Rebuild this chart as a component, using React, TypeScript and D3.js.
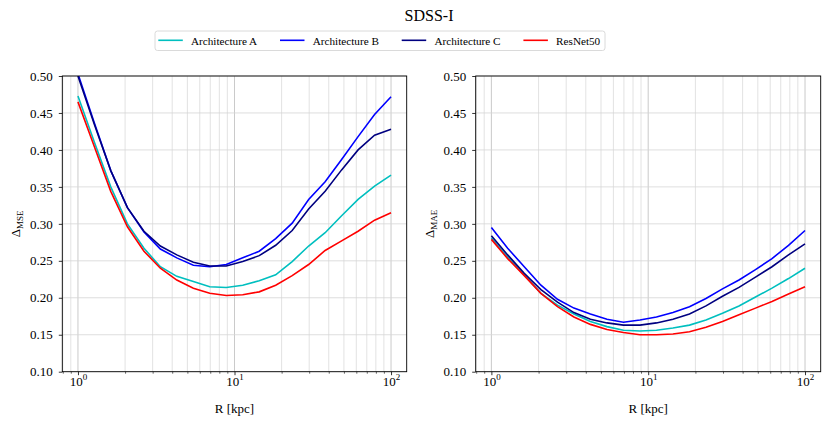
import React, { useEffect, useRef } from "react";
import * as d3 from "d3";

// radii sampled on a log grid from 1 to 100 kpc
const radiusKpc = [1.0, 1.27, 1.62, 2.07, 2.64, 3.36, 4.28, 5.46, 6.95, 8.86, 11.29, 14.38, 18.33, 23.36, 29.76, 37.93, 48.33, 61.58, 78.48, 100.0];

const seriesNames = ["Architecture A", "Architecture B", "Architecture C", "ResNet50"];
const seriesColors = ["#00bfbf", "#0000ff", "#000080", "#ff0000"];

const mseArchA = [0.473, 0.411, 0.350, 0.300, 0.267, 0.242, 0.229, 0.222, 0.215, 0.214, 0.217, 0.223, 0.231, 0.249, 0.270, 0.288, 0.311, 0.333, 0.351, 0.366];
const mseArchB = [0.503, 0.437, 0.372, 0.322, 0.289, 0.266, 0.254, 0.244, 0.242, 0.245, 0.254, 0.263, 0.280, 0.301, 0.333, 0.357, 0.387, 0.418, 0.448, 0.472];
const mseArchC = [0.500, 0.435, 0.372, 0.322, 0.290, 0.270, 0.258, 0.248, 0.243, 0.243, 0.249, 0.257, 0.271, 0.291, 0.320, 0.344, 0.373, 0.400, 0.420, 0.428];
const mseResNet = [0.465, 0.405, 0.344, 0.296, 0.263, 0.240, 0.224, 0.213, 0.206, 0.203, 0.204, 0.208, 0.217, 0.230, 0.245, 0.264, 0.277, 0.290, 0.305, 0.315];

const maeArchA = [0.281, 0.255, 0.231, 0.206, 0.190, 0.178, 0.168, 0.161, 0.156, 0.155, 0.156, 0.159, 0.163, 0.170, 0.179, 0.189, 0.201, 0.213, 0.226, 0.240];
const maeArchB = [0.295, 0.267, 0.242, 0.217, 0.198, 0.186, 0.178, 0.171, 0.167, 0.170, 0.174, 0.180, 0.188, 0.199, 0.212, 0.224, 0.238, 0.253, 0.271, 0.291];
const maeArchC = [0.284, 0.258, 0.233, 0.211, 0.194, 0.180, 0.171, 0.166, 0.163, 0.163, 0.166, 0.171, 0.178, 0.189, 0.202, 0.214, 0.228, 0.242, 0.258, 0.273];
const maeResNet = [0.279, 0.253, 0.230, 0.206, 0.188, 0.174, 0.164, 0.157, 0.153, 0.150, 0.150, 0.151, 0.154, 0.160, 0.168, 0.177, 0.186, 0.195, 0.205, 0.215];

const yTickValues = [0.1, 0.15, 0.2, 0.25, 0.3, 0.35, 0.4, 0.45, 0.5];
const xMajorTicks = [1, 10, 100];

const FONT = "'Liberation Serif', 'Times New Roman', serif";

const App = () => {
  const svgRef = useRef<SVGSVGElement>(null);

  useEffect(() => {
    const svg = d3.select(svgRef.current);
    svg.selectAll("*").remove();

    const top = 76;
    const bottom = 371.7;

    const drawPanel = (left: number, right: number, data: number[][], sub: string, id: string) => {
      const x = d3.scaleLog().domain([Math.pow(10, -0.1), Math.pow(10, 2.1)]).range([left, right]);
      const y = d3.scaleLinear().domain([0.1, 0.5]).range([bottom, top]);
      const g = svg.append("g");

      const allX = x.ticks();
      const minorX = allX.filter((t) => !xMajorTicks.includes(t));

      // grid
      g.selectAll(".vgrid")
        .data(allX)
        .enter()
        .append("line")
        .attr("x1", (d) => x(d))
        .attr("x2", (d) => x(d))
        .attr("y1", top)
        .attr("y2", bottom)
        .attr("stroke", (d) => (xMajorTicks.includes(d) ? "#bdbdbd" : "#dadada"))
        .attr("stroke-width", 0.8);
      g.selectAll(".hgrid")
        .data(yTickValues)
        .enter()
        .append("line")
        .attr("x1", left)
        .attr("x2", right)
        .attr("y1", (d) => y(d))
        .attr("y2", (d) => y(d))
        .attr("stroke", "#d6d6d6")
        .attr("stroke-width", 0.8);

      // lines
      svg
        .append("clipPath")
        .attr("id", id)
        .append("rect")
        .attr("x", left)
        .attr("y", top)
        .attr("width", right - left)
        .attr("height", bottom - top);

      const line = d3
        .line<number>()
        .x((_, i) => x(radiusKpc[i]))
        .y((d) => y(d));

      data.forEach((vals, i) => {
        g.append("path")
          .attr("d", line(vals))
          .attr("fill", "none")
          .attr("stroke", seriesColors[i])
          .attr("stroke-width", 1.6)
          .attr("clip-path", `url(#${id})`);
      });

      // y axis
      const yAxis = g
        .append("g")
        .attr("transform", `translate(${left},0)`)
        .call(d3.axisLeft(y).tickValues(yTickValues).tickSize(3.5).tickSizeOuter(0).tickPadding(6).tickFormat(d3.format(".2f")));
      yAxis.select(".domain").remove();
      yAxis.selectAll("text").attr("font-family", FONT).attr("font-size", 13).attr("fill", "#000");
      yAxis.selectAll("line").attr("stroke", "#000").attr("stroke-width", 0.8);

      // x axis minor ticks
      const xMinor = g
        .append("g")
        .attr("transform", `translate(0,${bottom})`)
        .call(d3.axisBottom(x).tickValues(minorX).tickSize(2).tickSizeOuter(0).tickFormat(() => ""));
      xMinor.select(".domain").remove();
      xMinor.selectAll("line").attr("stroke", "#000").attr("stroke-width", 0.6);

      // x axis major ticks
      const xMajor = g
        .append("g")
        .attr("transform", `translate(0,${bottom})`)
        .call(d3.axisBottom(x).tickValues(xMajorTicks).tickSize(3.5).tickSizeOuter(0));
      xMajor.select(".domain").remove();
      xMajor.selectAll("line").attr("stroke", "#000").attr("stroke-width", 0.8);
      xMajor
        .selectAll<SVGTextElement, number>("text")
        .attr("y", 14)
        .attr("dy", null)
        .attr("font-family", FONT)
        .attr("font-size", 13)
        .attr("fill", "#000")
        .each(function (d) {
          const t = d3.select(this);
          t.text(null);
          t.append("tspan").text("10");
          t.append("tspan").attr("dy", -6).attr("font-size", 9).text(String(Math.round(Math.log10(d))));
        });

      // spines
      g.append("rect")
        .attr("x", left)
        .attr("y", top)
        .attr("width", right - left)
        .attr("height", bottom - top)
        .attr("fill", "none")
        .attr("stroke", "#000")
        .attr("stroke-width", 0.9);

      // labels
      g.append("text")
        .attr("x", (left + right) / 2)
        .attr("y", 413)
        .attr("text-anchor", "middle")
        .attr("font-family", FONT)
        .attr("font-size", 13)
        .text("R [kpc]");

      const yl = g
        .append("text")
        .attr("transform", `translate(${left - 42},${(top + bottom) / 2}) rotate(-90)`)
        .attr("text-anchor", "middle")
        .attr("font-family", FONT)
        .attr("font-size", 13);
      yl.append("tspan").text("Δ");
      yl.append("tspan").attr("dy", 3).attr("font-size", 9).text(sub);
    };

    drawPanel(62.3, 406.7, [mseArchA, mseArchB, mseArchC, mseResNet], "MSE", "clipL");
    drawPanel(475.7, 820.7, [maeArchA, maeArchB, maeArchC, maeResNet], "MAE", "clipR");

    // title
    svg
      .append("text")
      .attr("x", 429)
      .attr("y", 21)
      .attr("text-anchor", "middle")
      .attr("font-family", FONT)
      .attr("font-size", 16)
      .text("SDSS-I");

    // legend
    const legend = svg.append("g");
    legend
      .append("rect")
      .attr("x", 155)
      .attr("y", 31)
      .attr("width", 450)
      .attr("height", 19.5)
      .attr("rx", 2.5)
      .attr("fill", "#fff")
      .attr("stroke", "#d0d0d0")
      .attr("stroke-width", 0.8);
    seriesNames.forEach((name, i) => {
      const lx = 158.3 + i * 121.7;
      legend
        .append("line")
        .attr("x1", lx)
        .attr("x2", lx + 24.5)
        .attr("y1", 40.3)
        .attr("y2", 40.3)
        .attr("stroke", seriesColors[i])
        .attr("stroke-width", 1.6);
      legend
        .append("text")
        .attr("x", lx + 32.7)
        .attr("y", 44.5)
        .attr("font-family", FONT)
        .attr("font-size", 11.2)
        .text(name);
    });
  }, []);

  return (
    <svg
      ref={svgRef}
      width={830}
      height={425}
      style={{ position: "absolute", left: 0, top: 0, background: "#fff" }}
    />
  );
};

export default App;
